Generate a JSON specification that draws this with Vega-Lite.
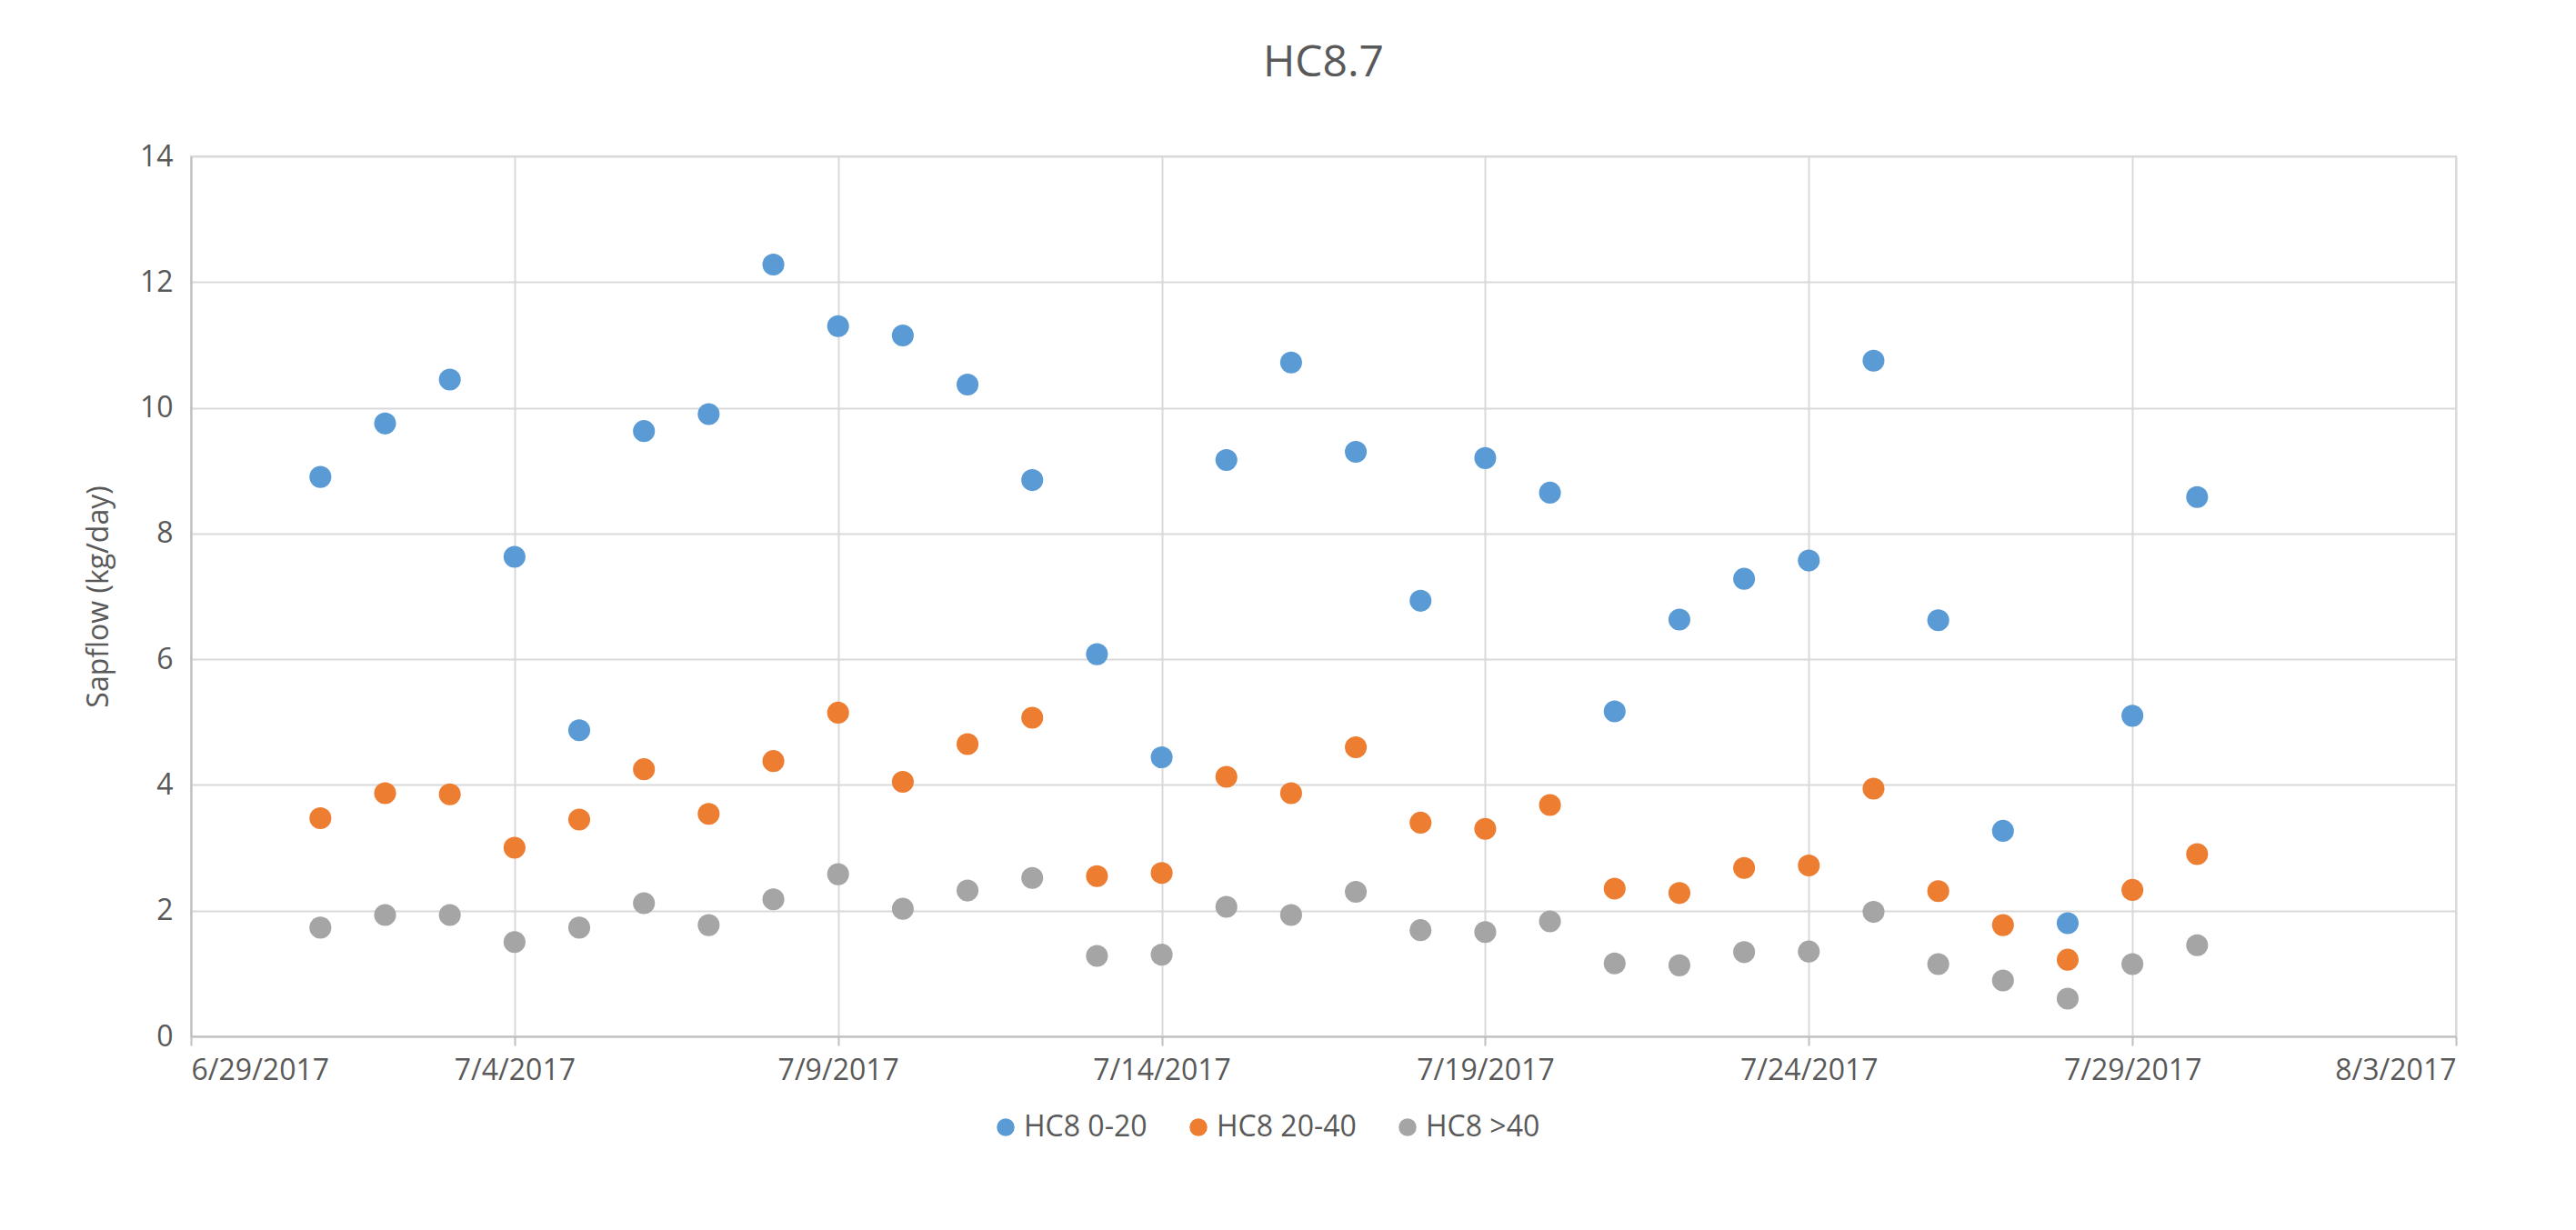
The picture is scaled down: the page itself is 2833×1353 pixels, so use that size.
{
  "$schema": "https://vega.github.io/schema/vega-lite/v6.json",
  "background": "white",
  "autosize": {"type": "none"},
  "padding": {"left": 210, "top": 172, "right": 132, "bottom": 213},
  "width": 2491,
  "height": 968,
  "title": {"text": "HC8.7", "fontSize": 48, "font": "Open Sans", "fontWeight": "normal", "color": "#595959", "offset": 62},
  "data": {
    "values": [
      {"date": "2017-07-01", "a": 8.9, "b": 3.47, "c": 1.73},
      {"date": "2017-07-02", "a": 9.75, "b": 3.87, "c": 1.93},
      {"date": "2017-07-03", "a": 10.45, "b": 3.85, "c": 1.93},
      {"date": "2017-07-04", "a": 7.63, "b": 3.0, "c": 1.5},
      {"date": "2017-07-05", "a": 4.87, "b": 3.45, "c": 1.73},
      {"date": "2017-07-06", "a": 9.63, "b": 4.25, "c": 2.12},
      {"date": "2017-07-07", "a": 9.9, "b": 3.54, "c": 1.77},
      {"date": "2017-07-08", "a": 12.28, "b": 4.38, "c": 2.18},
      {"date": "2017-07-09", "a": 11.3, "b": 5.15, "c": 2.58},
      {"date": "2017-07-10", "a": 11.15, "b": 4.05, "c": 2.03},
      {"date": "2017-07-11", "a": 10.37, "b": 4.65, "c": 2.32},
      {"date": "2017-07-12", "a": 8.85, "b": 5.07, "c": 2.52},
      {"date": "2017-07-13", "a": 6.08, "b": 2.55, "c": 1.28},
      {"date": "2017-07-14", "a": 4.44, "b": 2.6, "c": 1.3},
      {"date": "2017-07-15", "a": 9.17, "b": 4.13, "c": 2.06},
      {"date": "2017-07-16", "a": 10.72, "b": 3.87, "c": 1.93},
      {"date": "2017-07-17", "a": 9.3, "b": 4.6, "c": 2.3},
      {"date": "2017-07-18", "a": 6.93, "b": 3.4, "c": 1.69},
      {"date": "2017-07-19", "a": 9.2, "b": 3.3, "c": 1.66},
      {"date": "2017-07-20", "a": 8.65, "b": 3.68, "c": 1.83},
      {"date": "2017-07-21", "a": 5.17, "b": 2.35, "c": 1.16},
      {"date": "2017-07-22", "a": 6.63, "b": 2.28, "c": 1.13},
      {"date": "2017-07-23", "a": 7.28, "b": 2.68, "c": 1.34},
      {"date": "2017-07-24", "a": 7.57, "b": 2.72, "c": 1.35},
      {"date": "2017-07-25", "a": 10.75, "b": 3.94, "c": 1.98},
      {"date": "2017-07-26", "a": 6.62, "b": 2.31, "c": 1.15},
      {"date": "2017-07-27", "a": 3.27, "b": 1.77, "c": 0.89},
      {"date": "2017-07-28", "a": 1.8, "b": 1.22, "c": 0.6},
      {"date": "2017-07-29", "a": 5.1, "b": 2.33, "c": 1.15},
      {"date": "2017-07-30", "a": 8.58, "b": 2.9, "c": 1.45}
    ]
  },
  "transform": [
    {"fold": ["a", "b", "c"], "as": ["key", "value"]},
    {"lookup": "key", "from": {"data": {"values": [
      {"key": "a", "series": "HC8 0-20"},
      {"key": "b", "series": "HC8 20-40"},
      {"key": "c", "series": "HC8 >40"}
    ]}, "key": "key", "fields": ["series"]}}
  ],
  "mark": {"type": "circle", "size": 580, "opacity": 1},
  "encoding": {
    "x": {
      "field": "date", "type": "temporal",
      "scale": {"type": "utc", "domain": [{"year": 2017, "month": 6, "date": 29, "utc": true}, {"year": 2017, "month": 8, "date": 3, "utc": true}]},
      "axis": {
        "title": null, "format": "%-m/%-d/%Y",
        "values": [
          {"year": 2017, "month": 6, "date": 29, "utc": true},
          {"year": 2017, "month": 7, "date": 4, "utc": true},
          {"year": 2017, "month": 7, "date": 9, "utc": true},
          {"year": 2017, "month": 7, "date": 14, "utc": true},
          {"year": 2017, "month": 7, "date": 19, "utc": true},
          {"year": 2017, "month": 7, "date": 24, "utc": true},
          {"year": 2017, "month": 7, "date": 29, "utc": true},
          {"year": 2017, "month": 8, "date": 3, "utc": true}
        ],
        "labelPadding": 12, "tickSize": 10
      }
    },
    "y": {
      "field": "value", "type": "quantitative",
      "scale": {"domain": [0, 14]},
      "axis": {"title": "Sapflow (kg/day)", "values": [0, 2, 4, 6, 8, 10, 12, 14], "tickSize": 0, "labelPadding": 20, "titlePadding": 28}
    },
    "color": {
      "field": "series", "type": "nominal",
      "scale": {"domain": ["HC8 0-20", "HC8 20-40", "HC8 >40"], "range": ["#5B9BD5", "#ED7D31", "#A5A5A5"]},
      "legend": {"title": null, "orient": "none", "direction": "horizontal", "legendX": 880, "legendY": 1052, "symbolSize": 380, "labelFontSize": 32, "columnPadding": 40, "symbolType": "circle"}
    }
  },
  "config": {
    "font": "Open Sans",
    "view": {"stroke": "#D9D9D9", "strokeWidth": 2},
    "axis": {"labelFont": "Open Sans", "titleFont": "Open Sans", "labelFontSize": 32, "titleFontSize": 32, "titleFontWeight": "normal", "labelColor": "#595959", "titleColor": "#595959", "gridColor": "#D9D9D9", "gridWidth": 2, "domainColor": "#BFBFBF", "domainWidth": 2, "tickColor": "#BFBFBF", "tickWidth": 2},
    "legend": {"labelFont": "Open Sans", "labelColor": "#595959"}
  }
}
